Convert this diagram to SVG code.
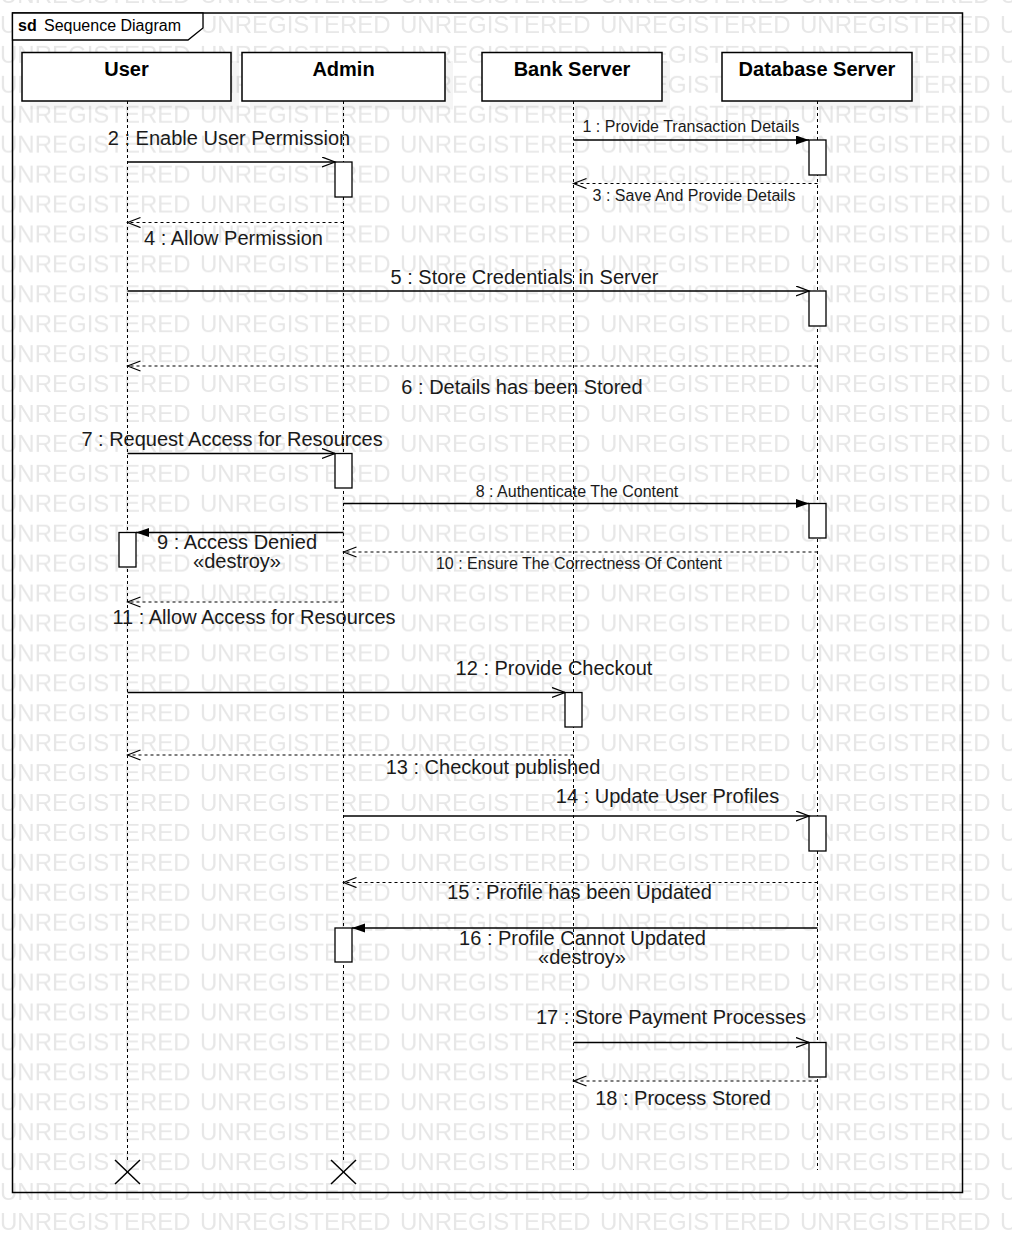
<svg xmlns="http://www.w3.org/2000/svg" width="1012" height="1242" viewBox="0 0 1012 1242">
<style>
.wm{font-family:"Liberation Sans",Arial,sans-serif;font-size:24px;fill:#e7e7e7}
.box{fill:#fff;stroke:#000;stroke-width:1.5}
.shadow{fill:#000;opacity:0.04}
.aname{font-family:"Liberation Sans",Arial,sans-serif;font-size:20px;font-weight:bold;text-anchor:middle;fill:#000}
.life{stroke:#000;stroke-width:1;stroke-dasharray:3,3;fill:none}
.act{fill:#fff;stroke:#000;stroke-width:1.3}
.msg{stroke:#000;stroke-width:1.3;fill:none}
.ret{stroke:#000;stroke-width:1.1;stroke-dasharray:3,3;fill:none}
.lbl{font-family:"Liberation Sans",Arial,sans-serif;font-size:20px;text-anchor:middle;fill:#1a1a1a}
.slbl{font-family:"Liberation Sans",Arial,sans-serif;font-size:16px;text-anchor:middle;fill:#1a1a1a}
.frame{fill:none;stroke:#000;stroke-width:1.5}
.tab{fill:#fff;stroke:#000;stroke-width:1.3}
.ftxt{font-family:"Liberation Sans",Arial,sans-serif;font-size:16px;fill:#000}
.x{stroke:#000;stroke-width:1.5}
</style>
<defs>
<pattern id="wmp" patternUnits="userSpaceOnUse" x="0" y="8" width="200" height="29.925">
<text class="wm" x="0" y="25">UNREGISTERED</text>
</pattern>
<marker id="fill" markerUnits="userSpaceOnUse" markerWidth="14" markerHeight="10" refX="13" refY="4.5" orient="auto">
<path d="M0,0 L13,4.5 L0,9 Z" fill="#000"/>
</marker>
<marker id="open" markerUnits="userSpaceOnUse" markerWidth="15" markerHeight="12" refX="13.5" refY="5.5" orient="auto">
<path d="M0.5,0.5 L13.5,5.5 L0.5,10.5" fill="none" stroke="#000" stroke-width="1.3"/>
</marker>
</defs>
<rect x="0" y="0" width="1012" height="1242" fill="#fff"/>
<rect x="0" y="0" width="1012" height="1242" fill="url(#wmp)"/>

<g id="frame">
<rect class="frame" x="12.5" y="13" width="950" height="1179.5"/>
<path class="tab" d="M12.5,13 L203,13 L203,28 L188,40 L12.5,40 Z"/>
<text class="ftxt" x="18" y="31" font-weight="bold">sd</text>
<text class="ftxt" x="44" y="31">Sequence Diagram</text>
</g>

<g id="user">
<rect class="shadow" x="30" y="61" width="209" height="48.5"/>
<rect class="box" x="22" y="52.5" width="209" height="48.5"/>
<text class="aname" x="126.5" y="76">User</text>
<line class="life" x1="127.5" y1="101" x2="127.5" y2="1160"/>
<rect class="act" x="119" y="532.5" width="17" height="34.5"/>
<line class="x" x1="115" y1="1160" x2="140" y2="1184"/>
<line class="x" x1="140" y1="1160" x2="115" y2="1184"/>
</g>

<g id="admin">
<rect class="shadow" x="250" y="61" width="203" height="48.5"/>
<rect class="box" x="242" y="52.5" width="203" height="48.5"/>
<text class="aname" x="343.5" y="76">Admin</text>
<line class="life" x1="343.5" y1="101" x2="343.5" y2="1160"/>
<rect class="act" x="335" y="162" width="17" height="35"/>
<rect class="act" x="335" y="453.5" width="17" height="34.5"/>
<rect class="act" x="335" y="928" width="17" height="34"/>
<line class="x" x1="331" y1="1160" x2="356" y2="1184"/>
<line class="x" x1="356" y1="1160" x2="331" y2="1184"/>
</g>

<g id="bank-server">
<rect class="shadow" x="490" y="61" width="180" height="48.5"/>
<rect class="box" x="482" y="52.5" width="180" height="48.5"/>
<text class="aname" x="572" y="76">Bank Server</text>
<line class="life" x1="573.5" y1="101" x2="573.5" y2="1170"/>
<rect class="act" x="565" y="692.5" width="17" height="34.5"/>
</g>

<g id="database-server">
<rect class="shadow" x="730" y="61" width="190" height="48.5"/>
<rect class="box" x="722" y="52.5" width="190" height="48.5"/>
<text class="aname" x="817" y="76">Database Server</text>
<line class="life" x1="817.5" y1="101" x2="817.5" y2="1170"/>
<rect class="act" x="809" y="140" width="17" height="35"/>
<rect class="act" x="809" y="291" width="17" height="35"/>
<rect class="act" x="809" y="503.5" width="17" height="34.5"/>
<rect class="act" x="809" y="816" width="17" height="35"/>
<rect class="act" x="809" y="1042.5" width="17" height="34.5"/>
</g>

<g id="connectors">
<line class="msg" x1="573.5" y1="140" x2="809" y2="140" marker-end="url(#fill)"/>
<text class="slbl" x="691" y="132">1 : Provide Transaction Details</text>

<line class="msg" x1="127.5" y1="162" x2="335" y2="162" marker-end="url(#open)"/>
<text class="lbl" x="229" y="145">2 : Enable User Permission</text>

<line class="ret" x1="817.5" y1="183.5" x2="573.5" y2="183.5" marker-end="url(#open)"/>
<text class="slbl" x="694" y="201">3 : Save And Provide Details</text>

<line class="ret" x1="343.5" y1="222.5" x2="127.5" y2="222.5" marker-end="url(#open)"/>
<text class="lbl" x="233.5" y="245">4 : Allow Permission</text>

<line class="msg" x1="127.5" y1="291" x2="809" y2="291" marker-end="url(#open)"/>
<text class="lbl" x="524.5" y="284">5 : Store Credentials in Server</text>

<line class="ret" x1="817.5" y1="366" x2="127.5" y2="366" marker-end="url(#open)"/>
<text class="lbl" x="522" y="394">6 : Details has been Stored</text>

<line class="msg" x1="127.5" y1="453.5" x2="335" y2="453.5" marker-end="url(#open)"/>
<text class="lbl" x="232" y="446">7 : Request Access for Resources</text>

<line class="msg" x1="343.5" y1="503.5" x2="809" y2="503.5" marker-end="url(#fill)"/>
<text class="slbl" x="577" y="497">8 : Authenticate The Content</text>

<line class="msg" x1="343.5" y1="532.5" x2="136" y2="532.5" marker-end="url(#fill)"/>
<text class="lbl" x="237" y="549">9 : Access Denied</text>
<text class="lbl" x="237" y="568">«destroy»</text>

<line class="ret" x1="817.5" y1="552" x2="343.5" y2="552" marker-end="url(#open)"/>
<text class="slbl" x="579" y="569">10 : Ensure The Correctness Of Content</text>

<line class="ret" x1="343.5" y1="602" x2="127.5" y2="602" marker-end="url(#open)"/>
<text class="lbl" x="254" y="624">11 : Allow Access for Resources</text>

<line class="msg" x1="127.5" y1="692.5" x2="565" y2="692.5" marker-end="url(#open)"/>
<text class="lbl" x="554" y="675">12 : Provide Checkout</text>

<line class="ret" x1="573.5" y1="755" x2="127.5" y2="755" marker-end="url(#open)"/>
<text class="lbl" x="493" y="774">13 : Checkout published</text>

<line class="msg" x1="343.5" y1="816" x2="809" y2="816" marker-end="url(#open)"/>
<text class="lbl" x="667.5" y="803">14 : Update User Profiles</text>

<line class="ret" x1="817.5" y1="882.5" x2="343.5" y2="882.5" marker-end="url(#open)"/>
<text class="lbl" x="579.5" y="899">15 : Profile has been Updated</text>

<line class="msg" x1="817.5" y1="928" x2="352" y2="928" marker-end="url(#fill)"/>
<text class="lbl" x="582.5" y="945">16 : Profile Cannot Updated</text>
<text class="lbl" x="582" y="964">«destroy»</text>

<line class="msg" x1="573.5" y1="1042.5" x2="809" y2="1042.5" marker-end="url(#open)"/>
<text class="lbl" x="671" y="1024">17 : Store Payment Processes</text>

<line class="ret" x1="817.5" y1="1081" x2="573.5" y2="1081" marker-end="url(#open)"/>
<text class="lbl" x="683" y="1105">18 : Process Stored</text>
</g>
</svg>
